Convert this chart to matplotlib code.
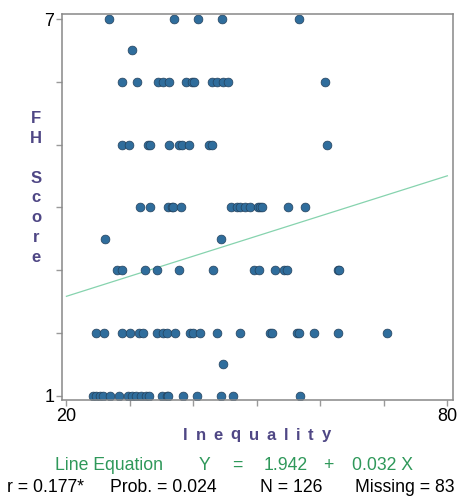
import numpy as np
import matplotlib.pyplot as plt

plt.rcParams['font.family'] = ['Liberation Sans', 'DejaVu Sans']

# FH score levels and the inequality values read for each level
score_levels = [7, 6.5, 6, 5, 4, 3.5, 3, 2, 1.5, 1]
ineq_7 = [26.7, 36.9, 40.7, 44.5, 56.6]
ineq_65 = [30.3]
ineq_6 = [28.7, 31.1, 34.5, 35.2, 36.1, 38.9, 39.7, 40.1, 42.9, 43.7, 44.7, 45.5, 60.7]
ineq_5 = [28.7, 29.8, 32.8, 33.2, 36.2, 37.7, 38.2, 39.3, 42.4, 43.0, 61.0]
ineq_4 = [31.6, 33.2, 36.0, 36.6, 36.8, 38.1, 45.9, 46.8, 47.3, 48.1, 48.9, 50.1,
          50.5, 50.8, 54.9, 57.5]
ineq_35 = [26.0, 44.3]
ineq_3 = [28.0, 28.8, 32.3, 34.2, 37.7, 43.1, 49.6, 50.4, 52.8, 54.3, 54.8, 62.7, 62.9]
ineq_2 = [24.6, 25.9, 28.7, 30.0, 31.4, 32.1, 34.2, 35.2, 35.8, 37.1, 39.4, 40.0,
          41.1, 43.7, 47.3, 52.1, 52.3, 56.3, 56.7, 59.0, 62.8, 70.5]
ineq_15 = [44.6]
ineq_1 = [24.2, 24.7, 25.3, 25.8, 26.8, 28.3, 29.7, 30.3, 31.0, 31.8, 32.6, 33.0,
          35.0, 35.8, 36.0, 38.4, 40.6, 44.4, 46.2, 56.8]

rows = [ineq_7, ineq_65, ineq_6, ineq_5, ineq_4, ineq_35, ineq_3, ineq_2, ineq_15, ineq_1]
inequality = np.concatenate(rows)
fh_score = np.concatenate([[lvl] * len(r) for lvl, r in zip(score_levels, rows)])

# regression line as reported under the chart
intercept = 1.942
slope = 0.032
line_x = np.array([20, 80])

W, H = 462, 497
fig = plt.figure(figsize=(W / 100, H / 100), dpi=100)
ax = fig.add_axes([0.1342, 0.1952, 0.8458, 0.776])

ax.plot(line_x, intercept + slope * line_x, color='#86d3ae', lw=0.9, zorder=1)
ax.scatter(inequality, fh_score, s=40, color='#2f6d9c', edgecolor='#23415c',
           linewidth=0.5, zorder=2)

ax.set_xlim(19.3, 80.85)
ax.set_ylim(0.93, 7.075)

ax.set_xticks(range(20, 81, 10))
ax.set_xticklabels(['20', '', '', '', '', '', '80'])
ax.set_yticks(range(1, 8))
ax.set_yticklabels(['1', '', '', '', '', '', '7'])
ax.tick_params(axis='both', colors='#9a9a9a', labelcolor='black', labelsize=13,
               length=4, width=1, pad=1.5)

for sp in ax.spines.values():
    sp.set_color('#888888')
    sp.set_linewidth(1.1)

purple = '#4f4785'
fig.text(36 / W, 1 - 188 / H, 'F\nH\n\nS\nc\no\nr\ne', color=purple,
         fontsize=12, fontweight='bold', ha='center', va='center',
         multialignment='center', linespacing=1.4)

# letter-spaced x label: place letters one by one with an even gap
renderer = fig.canvas.get_renderer()
letters = list('Inequality')
gap = 7.8
widths = []
for ch in letters:
    t = fig.text(0, 0, ch, fontsize=12, fontweight='bold')
    widths.append(t.get_window_extent(renderer).width)
    t.remove()
total = sum(widths) + gap * (len(letters) - 1)
x0 = 257 - total / 2
for ch, w in zip(letters, widths):
    fig.text(x0 / W, 1 - 435 / H, ch, color=purple, fontsize=12, fontweight='bold',
             ha='left', va='center')
    x0 += w + gap

green = '#2f985a'
fs = 12.7
eq_y = 1 - 465 / H
fig.text(55 / W, eq_y, 'Line Equation', color=green, fontsize=fs, ha='left', va='center')
fig.text(205 / W, eq_y, 'Y', color=green, fontsize=fs, ha='center', va='center')
fig.text(237 / W, eq_y, '=', color=green, fontsize=fs, ha='center', va='center')
fig.text(286 / W, eq_y, '1.942', color=green, fontsize=fs, ha='center', va='center')
fig.text(328 / W, eq_y, '+', color=green, fontsize=fs, ha='center', va='center')
fig.text(383 / W, eq_y, '0.032 X', color=green, fontsize=fs, ha='center', va='center')

st_y = 1 - 488 / H
fig.text(7 / W, st_y, 'r = 0.177*', fontsize=fs, ha='left', va='center')
fig.text(110 / W, st_y, 'Prob. = 0.024', fontsize=fs, ha='left', va='center')
fig.text(260 / W, st_y, 'N = 126', fontsize=fs, ha='left', va='center')
fig.text(355 / W, st_y, 'Missing = 83', fontsize=fs, ha='left', va='center')

fig.savefig('out.png', dpi=100)
